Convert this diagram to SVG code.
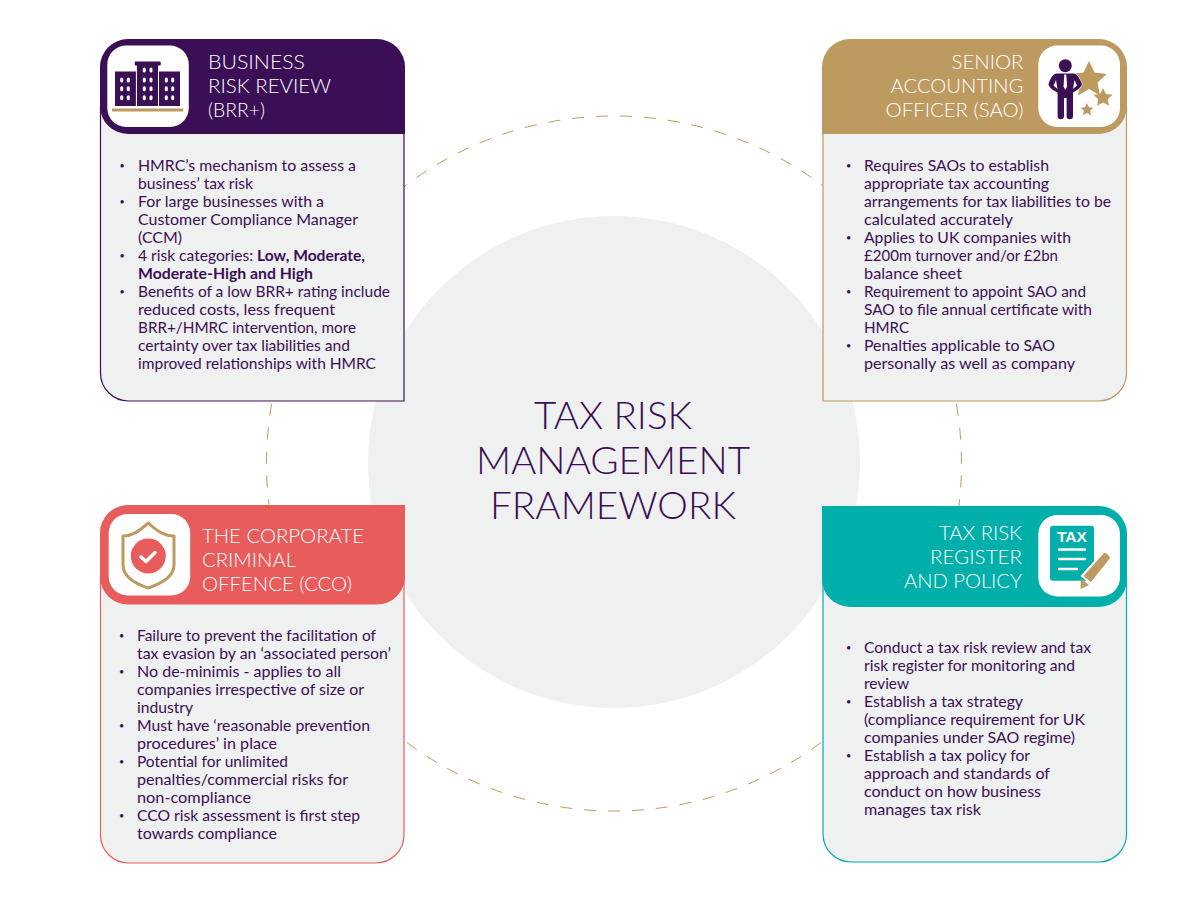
<svg xmlns="http://www.w3.org/2000/svg" width="1200" height="923" viewBox="0 0 1200 923">
<style>
.b{font-family:"Lato","Open Sans","Liberation Sans",sans-serif;font-size:15px;fill:#3a0f55}
.d{font-size:9px}
.h{font-family:"Lato","Open Sans","Liberation Sans",sans-serif;font-size:20px;font-weight:300;fill:#fff}
.t{font-family:"Lato","Open Sans","Liberation Sans",sans-serif;font-size:38px;font-weight:300;fill:#3a0f55;text-anchor:middle}
.body{fill:#eff0f0;stroke-width:1.2}
.w{fill:#fff}
.p{fill:#3a0f55}
.g{fill:#bd9a5f}
</style>
<rect width="1200" height="923" fill="#fff"/>
<g id="connectors">
<circle cx="614" cy="463.500" r="347.500" fill="none" stroke="#bd9a5f" stroke-width="1" pathLength="2184" stroke-dasharray="12 12" stroke-dashoffset="12"/>
</g>
<g id="center">
<circle cx="614" cy="462" r="246" fill="#eff0f0"/>
<text class="t" x="613" y="429" textLength="158" lengthAdjust="spacingAndGlyphs">TAX RISK</text>
<text class="t" x="613" y="474" textLength="274" lengthAdjust="spacingAndGlyphs">MANAGEMENT</text>
<text class="t" x="613" y="519" textLength="246" lengthAdjust="spacingAndGlyphs">FRAMEWORK</text>
</g>
<g id="brr">
<path class="body" stroke="#3a0f55" d="M100.500 106V373a28 28 0 0 0 28 28H404V106"/>
<path class="p" d="M100 67a28 28 0 0 1 28-28H377a28 28 0 0 1 28 28V134H128a28 28 0 0 1-28-28Z"/>
<rect class="w" x="107.300" y="45.500" width="81.500" height="81.500" rx="19"/>
<g class="p">
<rect x="115" y="71.500" width="21" height="34.500"/><rect x="136.800" y="65" width="21.300" height="41"/><rect x="159" y="71.500" width="21" height="34.500"/><rect x="134.700" y="61.500" width="26" height="4" rx="1"/>
</g>
<g fill="#fff">
<rect x="135.900" y="66" width=".9" height="40"/><rect x="158.100" y="66" width=".9" height="40"/>
<rect x="120.200" y="77.500" width="3" height="5" rx="1.500"/><rect x="126.800" y="77.500" width="3" height="5" rx="1.500"/><rect x="120.200" y="86.200" width="3" height="5" rx="1.500"/><rect x="126.800" y="86.200" width="3" height="5" rx="1.500"/><rect x="120.200" y="95.200" width="3" height="5" rx="1.500"/><rect x="126.800" y="95.200" width="3" height="5" rx="1.500"/>
<rect x="142.800" y="67.500" width="3" height="5" rx="1.500"/><rect x="149.500" y="67.500" width="3" height="5" rx="1.500"/><rect x="142.800" y="77.500" width="3" height="5" rx="1.500"/><rect x="149.500" y="77.500" width="3" height="5" rx="1.500"/><rect x="142.800" y="86.200" width="3" height="5" rx="1.500"/><rect x="149.500" y="86.200" width="3" height="5" rx="1.500"/><rect x="142.800" y="95.200" width="3" height="5" rx="1.500"/><rect x="149.500" y="95.200" width="3" height="5" rx="1.500"/>
<rect x="164.800" y="77.500" width="3" height="5" rx="1.500"/><rect x="171.200" y="77.500" width="3" height="5" rx="1.500"/><rect x="164.800" y="86.200" width="3" height="5" rx="1.500"/><rect x="171.200" y="86.200" width="3" height="5" rx="1.500"/><rect x="164.800" y="95.200" width="3" height="5" rx="1.500"/><rect x="171.200" y="95.200" width="3" height="5" rx="1.500"/>
</g>
<rect class="g" x="112" y="108.500" width="71" height="3"/>
<text class="h" x="208" y="69" textLength="97" lengthAdjust="spacingAndGlyphs">BUSINESS</text>
<text class="h" x="208" y="93" textLength="123" lengthAdjust="spacingAndGlyphs">RISK REVIEW</text>
<text class="h" x="208" y="117" textLength="57" lengthAdjust="spacingAndGlyphs">(BRR+)</text>
<g class="b">
<text class="d" x="119.500" y="169">•</text><text x="138" y="171" textLength="218" lengthAdjust="spacingAndGlyphs">HMRC’s mechanism to assess a</text>
<text x="138" y="189" textLength="115" lengthAdjust="spacingAndGlyphs">business’ tax risk</text>
<text class="d" x="119.500" y="205">•</text><text x="138" y="207" textLength="186" lengthAdjust="spacingAndGlyphs">For large businesses with a</text>
<text x="138" y="225" textLength="220" lengthAdjust="spacingAndGlyphs">Customer Compliance Manager</text>
<text x="138" y="243" textLength="44" lengthAdjust="spacingAndGlyphs">(CCM)</text>
<text class="d" x="119.500" y="259">•</text><text x="138" y="261" textLength="227" lengthAdjust="spacingAndGlyphs">4 risk categories: <tspan font-weight="700">Low, Moderate,</tspan></text>
<text x="138" y="279" font-weight="700" textLength="175" lengthAdjust="spacingAndGlyphs">Moderate-High and High</text>
<text class="d" x="119.500" y="295">•</text><text x="138" y="297" textLength="252" lengthAdjust="spacingAndGlyphs">Benefits of a low BRR+ rating include</text>
<text x="138" y="315" textLength="197" lengthAdjust="spacingAndGlyphs">reduced costs, less frequent</text>
<text x="138" y="333" textLength="218" lengthAdjust="spacingAndGlyphs">BRR+/HMRC intervention, more</text>
<text x="138" y="351" textLength="212" lengthAdjust="spacingAndGlyphs">certainty over tax liabilities and</text>
<text x="138" y="369" textLength="238" lengthAdjust="spacingAndGlyphs">improved relationships with HMRC</text>
</g>
</g>
<g id="sao">
<path class="body" stroke="#bd9a5f" d="M823 106V401H1098a28 28 0 0 0 28.500-28V106"/>
<path class="g" d="M822 67a28 28 0 0 1 28-28H1099a28 28 0 0 1 28 28V106a28 28 0 0 1-28 28H822Z"/>
<rect class="w" x="1038.300" y="45.500" width="81.700" height="81.500" rx="19"/>
<path class="g" d="M1089 61l5.500 11.500 12.500 1.500-9.500 8.500 2.500 13-11-6.500-11 6.500 2.500-13-9.500-8.500 12.500-1.500Z"/>
<path class="g" d="M1103 88l3 6 6.500.8-4.800 4.500 1.300 6.500-6-3.200-6 3.200 1.300-6.500-4.800-4.500 6.500-.8Z"/>
<path class="g" d="M1087 103l2 4.200 4.500.5-3.300 3.100.9 4.500-4.100-2.300-4.100 2.300.9-4.500-3.300-3.100 4.500-.5Z"/>
<circle class="p" cx="1065.300" cy="65.700" r="6.500"/>
<path class="p" stroke="#fff" stroke-width="1" paint-order="stroke" d="M1057 73.500H1073.500C1077 74 1079 77 1082 84 1081 88 1076 91 1073 92.500V116a3.200 3.200 0 0 1-6.400 0V98H1064V116a3.200 3.200 0 0 1-6.400 0V92.500C1054 91 1049 88 1048.500 84 1051 77 1053 74 1057 73.500Z"/>
<path fill="#fff" d="M1056 80L1057.500 89 1053.500 85.500ZM1074.500 80L1073 89 1077 85.500Z"/>
<path fill="#fff" d="M1064.300 74.500h2l.8 12-1.800 3.500-1.800-3.500Z"/>
<text class="h" x="1023.500" y="69" text-anchor="end" textLength="72" lengthAdjust="spacingAndGlyphs">SENIOR</text>
<text class="h" x="1023.500" y="93" text-anchor="end" textLength="133" lengthAdjust="spacingAndGlyphs">ACCOUNTING</text>
<text class="h" x="1023.500" y="117" text-anchor="end" textLength="138" lengthAdjust="spacingAndGlyphs">OFFICER (SAO)</text>
<g class="b">
<text class="d" x="846" y="169">•</text><text x="864" y="171" textLength="185" lengthAdjust="spacingAndGlyphs">Requires SAOs to establish</text>
<text x="864" y="189" textLength="185" lengthAdjust="spacingAndGlyphs">appropriate tax accounting</text>
<text x="864" y="207" textLength="247" lengthAdjust="spacingAndGlyphs">arrangements for tax liabilities to be</text>
<text x="864" y="225" textLength="149" lengthAdjust="spacingAndGlyphs">calculated accurately</text>
<text class="d" x="846" y="241">•</text><text x="864" y="243" textLength="207" lengthAdjust="spacingAndGlyphs">Applies to UK companies with</text>
<text x="864" y="261" textLength="194" lengthAdjust="spacingAndGlyphs">£200m turnover and/or £2bn</text>
<text x="864" y="279" textLength="98" lengthAdjust="spacingAndGlyphs">balance sheet</text>
<text class="d" x="846" y="295">•</text><text x="864" y="297" textLength="222" lengthAdjust="spacingAndGlyphs">Requirement to appoint SAO and</text>
<text x="864" y="315" textLength="228" lengthAdjust="spacingAndGlyphs">SAO to file annual certificate with</text>
<text x="864" y="333" textLength="45" lengthAdjust="spacingAndGlyphs">HMRC</text>
<text class="d" x="846" y="349">•</text><text x="864" y="351" textLength="191" lengthAdjust="spacingAndGlyphs">Penalties applicable to SAO</text>
<text x="864" y="369" textLength="211" lengthAdjust="spacingAndGlyphs">personally as well as company</text>
</g>
</g>
<g id="cco">
<path class="body" stroke="#e85c5c" d="M100.500 577V835a28 28 0 0 0 28 28H376a28 28 0 0 0 28-28V577"/>
<path fill="#e85c5c" d="M100 533a28 28 0 0 1 28-28H405V577a28 28 0 0 1-28 27.500H128a28 28 0 0 1-28-27.500Z"/>
<rect class="w" x="108.700" y="514" width="81.500" height="81.500" rx="19"/>
<path fill="none" stroke="#bd9a5f" stroke-width="3" stroke-linejoin="round" d="M148.300 523C138 532 132 536 123 536V565C123 577 136 584 148.300 588C160 584 174 577 174 565V536C165 536 158 532 148.300 523Z"/>
<circle cx="148.300" cy="556" r="17.500" fill="#e85c5c"/>
<path fill="none" stroke="#fff" stroke-width="3.500" stroke-linecap="round" stroke-linejoin="round" d="M141 557l5 4.500 9-9"/>
<text class="h" x="202" y="543" textLength="162" lengthAdjust="spacingAndGlyphs">THE CORPORATE</text>
<text class="h" x="202" y="567" textLength="94" lengthAdjust="spacingAndGlyphs">CRIMINAL</text>
<text class="h" x="202" y="591" textLength="150" lengthAdjust="spacingAndGlyphs">OFFENCE (CCO)</text>
<g class="b">
<text class="d" x="119" y="639">•</text><text x="137" y="641" textLength="239" lengthAdjust="spacingAndGlyphs">Failure to prevent the facilitation of</text>
<text x="137" y="659" textLength="254" lengthAdjust="spacingAndGlyphs">tax evasion by an ‘associated person’</text>
<text class="d" x="119" y="675">•</text><text x="137" y="677" textLength="204" lengthAdjust="spacingAndGlyphs">No de-minimis - applies to all</text>
<text x="137" y="695" textLength="227" lengthAdjust="spacingAndGlyphs">companies irrespective of size or</text>
<text x="137" y="713" textLength="56" lengthAdjust="spacingAndGlyphs">industry</text>
<text class="d" x="119" y="729">•</text><text x="137" y="731" textLength="233" lengthAdjust="spacingAndGlyphs">Must have ‘reasonable prevention</text>
<text x="137" y="749" textLength="140" lengthAdjust="spacingAndGlyphs">procedures’ in place</text>
<text class="d" x="119" y="765">•</text><text x="137" y="767" textLength="151" lengthAdjust="spacingAndGlyphs">Potential for unlimited</text>
<text x="137" y="785" textLength="211" lengthAdjust="spacingAndGlyphs">penalties/commercial risks for</text>
<text x="137" y="803" textLength="114" lengthAdjust="spacingAndGlyphs">non-compliance</text>
<text class="d" x="119" y="819">•</text><text x="137" y="821" textLength="223" lengthAdjust="spacingAndGlyphs">CCO risk assessment is first step</text>
<text x="137" y="839" textLength="140" lengthAdjust="spacingAndGlyphs">towards compliance</text>
</g>
</g>
<g id="register">
<path class="body" stroke="#00aeaa" d="M823 579V834a28 28 0 0 0 28 28H1098a28 28 0 0 0 28.500-28V579"/>
<path fill="#00aeaa" d="M822 506H1099a28 28 0 0 1 28 28V579a28 28 0 0 1-28 28H850a28 28 0 0 1-28-28Z"/>
<rect class="w" x="1038.300" y="515" width="81.700" height="81.500" rx="19"/>
<rect x="1050" y="525.700" width="44" height="55" rx="3" fill="#00aeaa"/>
<text x="1057" y="542" font-family="'Liberation Sans',sans-serif" font-weight="700" font-size="15" fill="#fff" textLength="30" lengthAdjust="spacingAndGlyphs">TAX</text>
<path fill="none" stroke="#fff" stroke-width="2.500" stroke-linecap="round" d="M1059 549.500h26M1059 559h26M1059 569h18"/>
<path class="g" stroke="#fff" stroke-width="2" d="M1103 552.500c3-2 9 3 7.500 6.500L1091 583.500l-9-7.500Z"/>
<path class="g" d="M1081 578.500l8 6.500-8.500 4Z"/>
<text class="h" x="1022" y="540" text-anchor="end" textLength="83" lengthAdjust="spacingAndGlyphs">TAX RISK</text>
<text class="h" x="1022" y="564" text-anchor="end" textLength="92" lengthAdjust="spacingAndGlyphs">REGISTER</text>
<text class="h" x="1022" y="588" text-anchor="end" textLength="118" lengthAdjust="spacingAndGlyphs">AND POLICY</text>
<g class="b">
<text class="d" x="846" y="651">•</text><text x="864" y="653" textLength="227" lengthAdjust="spacingAndGlyphs">Conduct a tax risk review and tax</text>
<text x="864" y="671" textLength="211" lengthAdjust="spacingAndGlyphs">risk register for monitoring and</text>
<text x="864" y="689" textLength="45" lengthAdjust="spacingAndGlyphs">review</text>
<text class="d" x="846" y="705">•</text><text x="864" y="707" textLength="159" lengthAdjust="spacingAndGlyphs">Establish a tax strategy</text>
<text x="864" y="725" textLength="221" lengthAdjust="spacingAndGlyphs">(compliance requirement for UK</text>
<text x="864" y="743" textLength="211" lengthAdjust="spacingAndGlyphs">companies under SAO regime)</text>
<text class="d" x="846" y="759">•</text><text x="864" y="761" textLength="166" lengthAdjust="spacingAndGlyphs">Establish a tax policy for</text>
<text x="864" y="779" textLength="186" lengthAdjust="spacingAndGlyphs">approach and standards of</text>
<text x="864" y="797" textLength="177" lengthAdjust="spacingAndGlyphs">conduct on how business</text>
<text x="864" y="815" textLength="117" lengthAdjust="spacingAndGlyphs">manages tax risk</text>
</g>
</g>
</svg>
